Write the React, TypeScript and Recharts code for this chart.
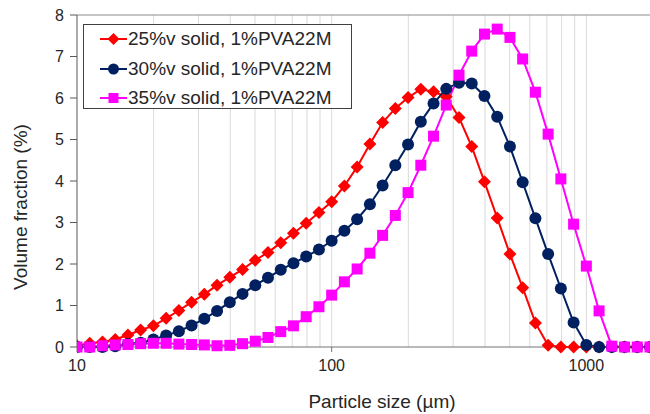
import { LineChart, Line, XAxis, YAxis, ReferenceLine } from "recharts";

// particle size classes (µm)
const sizes = [
  10, 11.22, 12.59, 14.13, 15.85, 17.78, 19.95, 22.39, 25.12, 28.18,
  31.62, 35.48, 39.81, 44.67, 50.12, 56.23, 63.1, 70.79, 79.43, 89.13,
  100, 112.2, 125.9, 141.3, 158.5, 177.8, 199.5, 223.9, 251.2, 281.8,
  316.2, 354.8, 398.1, 446.7, 501.2, 562.3, 631, 707.9, 794.3, 891.3,
  1000, 1122, 1259, 1413, 1585, 1778,
];

const solid25 = [
  0.03, 0.09, 0.12, 0.18, 0.29, 0.41, 0.51, 0.69, 0.88, 1.08,
  1.27, 1.49, 1.68, 1.87, 2.09, 2.28, 2.51, 2.74, 2.98, 3.24,
  3.5, 3.88, 4.34, 4.89, 5.41, 5.75, 6.01, 6.21, 6.15, 6.03,
  5.53, 4.83, 3.98, 3.11, 2.24, 1.43, 0.58, 0.04, 0, 0,
  0, 0, 0, 0, 0, 0,
];

const solid30 = [
  0, 0, 0, 0.02, 0.07, 0.1, 0.18, 0.28, 0.38, 0.52,
  0.68, 0.87, 1.08, 1.28, 1.49, 1.67, 1.86, 2.02, 2.18, 2.35,
  2.56, 2.8, 3.08, 3.44, 3.89, 4.38, 4.88, 5.43, 5.87, 6.22,
  6.37, 6.35, 6.05, 5.55, 4.83, 3.97, 3.1, 2.24, 1.41, 0.59,
  0.05, 0, 0, 0, 0, 0,
];

const solid35 = [
  0, 0, 0.03, 0.05, 0.06, 0.08, 0.09, 0.09, 0.07, 0.06,
  0.05, 0.03, 0.04, 0.08, 0.14, 0.23, 0.37, 0.51, 0.73, 0.97,
  1.25, 1.57, 1.88, 2.26, 2.69, 3.17, 3.72, 4.38, 5.08, 5.83,
  6.55, 7.13, 7.54, 7.66, 7.46, 6.94, 6.14, 5.13, 4.05, 2.96,
  1.95, 0.87, 0.02, 0, 0, 0,
];

const xTicks = [10, 100, 1000];
const yTicks = [0, 1, 2, 3, 4, 5, 6, 7, 8];
const gridX = [
  20, 30, 40, 50, 60, 70, 80, 90, 100,
  200, 300, 400, 500, 600, 700, 800, 900, 1000,
];

const seriesNames = [
  "25%v solid, 1%PVA22M",
  "30%v solid, 1%PVA22M",
  "35%v solid, 1%PVA22M",
];

const data = sizes.map((s, i) => ({
  size: s,
  a: solid25[i],
  b: solid30[i],
  c: solid35[i],
}));

const RED = "#FF0000";
const NAVY = "#002060";
const PINK = "#FF00FF";
const FONT = "'Liberation Sans', Arial, sans-serif";

const Diamond = (p: any) => {
  const { cx, cy, index } = p;
  if (cx == null || cy == null) return <g key={index} />;
  const r = 6.5;
  return (
    <polygon
      key={index}
      points={`${cx},${cy - r} ${cx + r},${cy} ${cx},${cy + r} ${cx - r},${cy}`}
      fill={RED}
    />
  );
};

const Dot = (p: any) => {
  const { cx, cy, index } = p;
  if (cx == null || cy == null) return <g key={index} />;
  return <circle key={index} cx={cx} cy={cy} r={6} fill={NAVY} />;
};

const Square = (p: any) => {
  const { cx, cy, index } = p;
  if (cx == null || cy == null) return <g key={index} />;
  return <rect key={index} x={cx - 5.5} y={cy - 5.5} width={11} height={11} fill={PINK} />;
};

const LegendIcon = ({ kind, color }: { kind: string; color: string }) => (
  <svg width={27} height={14} style={{ display: "block" }}>
    <line x1={0} y1={7} x2={27} y2={7} stroke={color} strokeWidth={2} />
    {kind === "diamond" && <polygon points="13.5,1 19.5,7 13.5,13 7.5,7" fill={color} />}
    {kind === "circle" && <circle cx={13.5} cy={7} r={5.5} fill={color} />}
    {kind === "square" && <rect x={8.5} y={2} width={10} height={10} fill={color} />}
  </svg>
);

const legendItems = [
  { name: seriesNames[0], kind: "diamond", color: RED },
  { name: seriesNames[1], kind: "circle", color: NAVY },
  { name: seriesNames[2], kind: "square", color: PINK },
];

export default function App() {
  return (
    <div
      style={{
        position: "absolute",
        left: 0,
        top: 0,
        width: 650,
        height: 414,
        overflow: "hidden",
        background: "#fff",
        fontFamily: FONT,
      }}
    >
      <LineChart
        width={680}
        height={414}
        data={data}
        margin={{ top: 15, right: 17, left: 0, bottom: 0 }}
      >
        {gridX.map((v) => (
          <ReferenceLine key={v} x={v} stroke="#d9d9d9" strokeWidth={1} />
        ))}
        <ReferenceLine y={8} stroke="#8c8c8c" strokeWidth={1} />
        <XAxis
          dataKey="size"
          type="number"
          scale="log"
          domain={[10, 2000]}
          ticks={xTicks}
          allowDataOverflow
          height={67}
          stroke="#737373"
          tickSize={5}
          tickMargin={8}
          tick={{ fontSize: 16, fill: "#262626", fontFamily: FONT }}
          label={(props: any) => (
            <text
              x={382}
              y={408}
              textAnchor="middle"
              fontSize={19}
              fill="#262626"
              fontFamily={FONT}
            >
              Particle size (µm)
            </text>
          )}
        />
        <YAxis
          type="number"
          domain={[0, 8]}
          ticks={yTicks}
          width={77}
          stroke="#595959"
          tickSize={7}
          tickMargin={6}
          tick={{ fontSize: 16, fill: "#262626", fontFamily: FONT }}
          label={(props: any) => (
            <text
              x={27}
              y={207}
              transform="rotate(-90, 27, 207)"
              textAnchor="middle"
              fontSize={19}
              fill="#262626"
              fontFamily={FONT}
            >
              Volume fraction (%)
            </text>
          )}
        />
        <Line
          dataKey="a"
          name={seriesNames[0]}
          stroke={RED}
          strokeWidth={2}
          dot={Diamond}
          activeDot={false}
          isAnimationActive={false}
        />
        <Line
          dataKey="b"
          name={seriesNames[1]}
          stroke={NAVY}
          strokeWidth={2}
          dot={Dot}
          activeDot={false}
          isAnimationActive={false}
        />
        <Line
          dataKey="c"
          name={seriesNames[2]}
          stroke={PINK}
          strokeWidth={2}
          dot={Square}
          activeDot={false}
          isAnimationActive={false}
        />
      </LineChart>

      <div
        style={{
          position: "absolute",
          left: 83,
          top: 24,
          width: 267,
          height: 83,
          border: "1px solid #404040",
          background: "#fff",
          boxSizing: "content-box",
        }}
      >
        {legendItems.map((it, i) => (
          <div
            key={it.name}
            style={{
              position: "absolute",
              left: 16,
              top: 3 + i * 29.5,
              height: 22,
              display: "flex",
              alignItems: "center",
              gap: 1,
              fontSize: 19,
              color: "#262626",
              whiteSpace: "nowrap",
            }}
          >
            <LegendIcon kind={it.kind} color={it.color} />
            <span>{it.name}</span>
          </div>
        ))}
      </div>
    </div>
  );
}
